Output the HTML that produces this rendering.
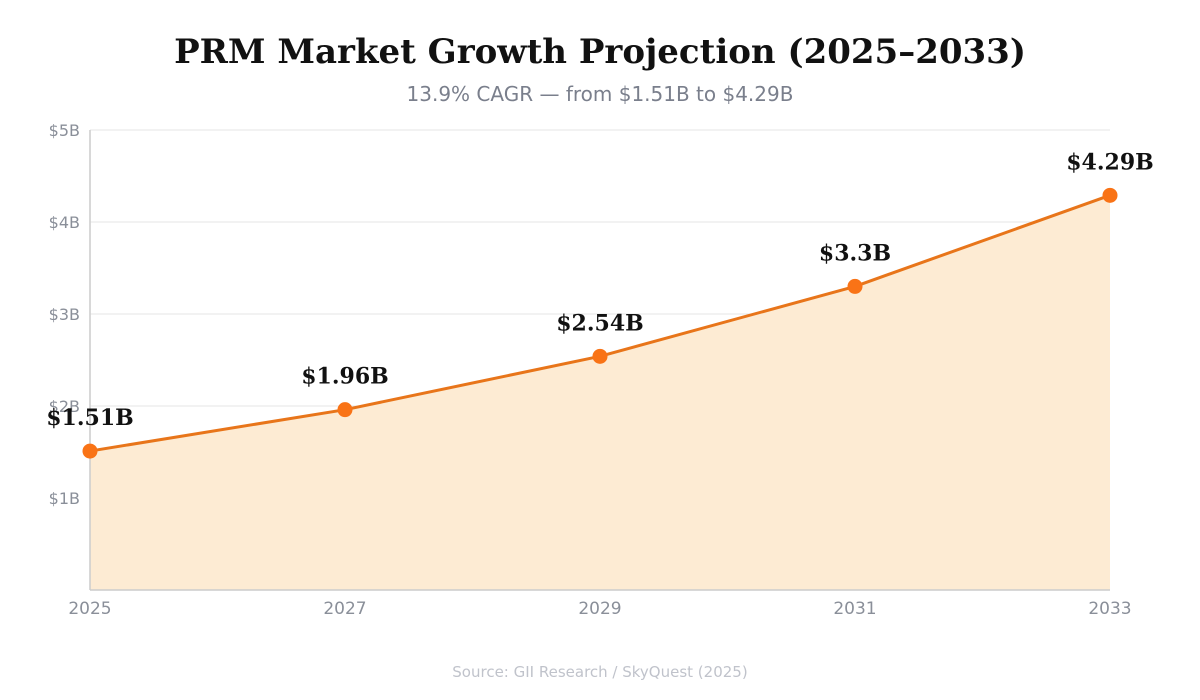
<!DOCTYPE html>
<html><head><meta charset="utf-8"><style>
body{margin:0;background:#fff;width:1200px;height:700px;overflow:hidden}
svg{display:block}
</style></head><body>
<svg id="chart" width="1200" height="700" xmlns="http://www.w3.org/2000/svg">
<text x="600" y="63" text-anchor="middle" font-family="DejaVu Serif, Liberation Serif, serif" font-weight="bold" font-size="34" fill="#111">PRM Market Growth Projection (2025–2033)</text>
<text x="600" y="101" text-anchor="middle" font-family="DejaVu Sans, Liberation Sans, sans-serif" font-size="20" fill="#7a7f8c">13.9% CAGR — from $1.51B to $4.29B</text>
<g id="grid"></g>
<g id="area"></g>
<g id="axes"></g>
<g id="marks"></g>
<text x="600" y="677" text-anchor="middle" font-family="DejaVu Sans, Liberation Sans, sans-serif" font-size="15" fill="#c0c3cb">Source: GII Research / SkyQuest (2025)</text>
</svg>
<script>
const years = [2025, 2027, 2029, 2031, 2033];
const values = [1.51, 1.96, 2.54, 3.3, 4.29];
const valueLabels = ["$1.51B", "$1.96B", "$2.54B", "$3.3B", "$4.29B"];
const yTicks = [1, 2, 3, 4, 5];
const yTickLabels = ["$1B", "$2B", "$3B", "$4B", "$5B"];

const NS = "http://www.w3.org/2000/svg";
const L = 90, R = 1110, T = 130, B = 590;
const xMin = 2025, xMax = 2033, yMax = 5;
const xs = v => L + (v - xMin) / (xMax - xMin) * (R - L);
const ys = v => B - v / yMax * (B - T);
function mk(tag, attrs, parent, text) {
  const e = document.createElementNS(NS, tag);
  for (const k in attrs) e.setAttribute(k, attrs[k]);
  if (text !== undefined) e.textContent = text;
  parent.appendChild(e);
  return e;
}
const grid = document.getElementById('grid'), axes = document.getElementById('axes'),
  area = document.getElementById('area'), marks = document.getElementById('marks');
const font = "DejaVu Sans, Liberation Sans, sans-serif";
yTicks.forEach((t, i) => {
  const g = mk('line', {x1: L, x2: R, y1: ys(t), y2: ys(t), stroke: '#e6e6e6', 'stroke-width': 1}, grid);
  
  
  const lb = mk('text', {x: 80, y: ys(t) + 6, 'text-anchor': 'end', 'font-family': font, 'font-size': 16, fill: '#8a8f99'}, axes, yTickLabels[i]);
  
  
});
let d = `M${xs(years[0])},${B}`;
years.forEach((y, i) => d += ` L${xs(y)},${ys(values[i])}`);
d += ` L${xs(years[years.length - 1])},${B} Z`;
const ar = mk('path', {d: d, fill: '#fdebd3'}, area);


const ax = mk('line', {x1: L, x2: L, y1: T, y2: B, stroke: '#cccccc', 'stroke-width': 1.5}, axes);


const bx = mk('line', {x1: L, x2: R, y1: B, y2: B, stroke: '#cccccc', 'stroke-width': 1.5}, axes);


years.forEach(y => {
  const lb = mk('text', {x: xs(y), y: 614, 'text-anchor': 'middle', 'font-family': font, 'font-size': 17, fill: '#8a8f99'}, axes, String(y));
  
  
});
const pts = years.map((y, i) => `${xs(y)},${ys(values[i])}`).join(' ');
const ln = mk('polyline', {points: pts, fill: 'none', stroke: '#e8751a', 'stroke-width': 3}, marks);


years.forEach((y, i) => {
  const c = mk('circle', {cx: xs(y), cy: ys(values[i]), r: 7.5, fill: '#f97316'}, marks);
  
  
  const t = mk('text', {x: xs(y), y: ys(values[i]) - 26, 'text-anchor': 'middle', 'font-family': 'DejaVu Serif, Liberation Serif, serif', 'font-weight': 'bold', 'font-size': 22, fill: '#111'}, marks, valueLabels[i]);
  
  
});
</script>
</body></html>
